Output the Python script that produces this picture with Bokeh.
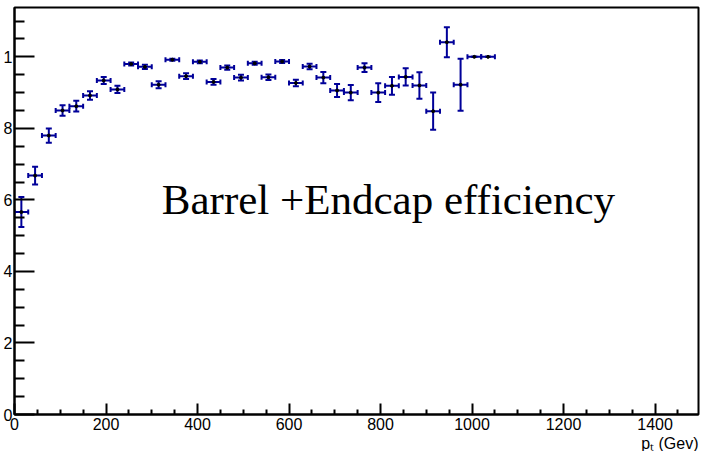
from bokeh.plotting import figure
from bokeh.models import ColumnDataSource, Whisker, TeeHead, Label, FixedTicker, Range1d, Title
from bokeh.embed import file_html
from bokeh.resources import INLINE

# ---- data ----
pt_center = [15, 45, 75, 105, 135, 165, 195, 225, 255, 285, 315, 345, 375, 405,
             435, 465, 495, 525, 555, 585, 615, 645, 675, 705, 735, 765, 795, 825,
             855, 885, 915, 945, 975, 1005, 1035]
pt_halfwidth = [15] * len(pt_center)
efficiency = [0.566, 0.668, 0.780, 0.850, 0.862, 0.892, 0.934, 0.909, 0.980, 0.972,
              0.922, 0.992, 0.946, 0.986, 0.930, 0.970, 0.942, 0.982, 0.943, 0.987,
              0.927, 0.973, 0.942, 0.906, 0.900, 0.970, 0.900, 0.919, 0.944, 0.920,
              0.848, 1.041, 0.922, 1.000, 1.000]
eff_error = [0.042, 0.025, 0.020, 0.015, 0.015, 0.012, 0.010, 0.010, 0.004, 0.006,
             0.010, 0.003, 0.008, 0.004, 0.008, 0.006, 0.008, 0.004, 0.008, 0.004,
             0.009, 0.008, 0.016, 0.018, 0.021, 0.012, 0.026, 0.025, 0.024, 0.037,
             0.052, 0.042, 0.073, 0.0, 0.0]

x_ticks = [0, 200, 400, 600, 800, 1000, 1200, 1400]
x_tick_labels = ["0", "200", "400", "600", "800", "1000", "1200", "1400"]
y_ticks = [0.0, 0.2, 0.4, 0.6, 0.8, 1.0]
y_tick_labels = ["0", "2", "4", "6", "8", "1"]   # visible part of the cropped labels

chart_text = "Barrel +Endcap efficiency"
x_title = "p\u209c (Gev)"

# ---- derived columns ----
src = ColumnDataSource(dict(
    pt=pt_center,
    eff=efficiency,
    ylo=[e - d for e, d in zip(efficiency, eff_error)],
    yhi=[e + d for e, d in zip(efficiency, eff_error)],
    xlo=[c - w for c, w in zip(pt_center, pt_halfwidth)],
    xhi=[c + w for c, w in zip(pt_center, pt_halfwidth)],
))

BAR = "#000099"

p = figure(width=700, height=451, output_backend="svg", toolbar_location=None,
           x_range=Range1d(0, 1495), y_range=Range1d(0, 1.138),
           min_border_left=0, min_border_right=2, min_border_top=7, min_border_bottom=37)
p.background_fill_color = "white"
p.border_fill_color = "white"
p.outline_line_color = "black"
p.outline_line_width = 2
p.grid.visible = False

# axes
xa = p.xaxis[0]
ya = p.yaxis[0]
xa.ticker = FixedTicker(ticks=x_ticks,
                        minor_ticks=[v for v in range(0, 1501, 50) if v % 200])
xa.major_label_overrides = {t: l for t, l in zip(x_ticks, x_tick_labels)}
ya.ticker = FixedTicker(ticks=y_ticks,
                        minor_ticks=[round(0.05 * i, 2) for i in range(23) if i % 4])
ya.major_label_overrides = {t: l for t, l in zip(y_ticks, y_tick_labels)}

for ax in (xa, ya):
    ax.axis_line_color = "black"
    ax.axis_line_width = 2
    ax.major_tick_line_color = "black"
    ax.major_tick_line_width = 2
    ax.minor_tick_line_color = "black"
    ax.minor_tick_line_width = 2
    ax.major_tick_out = 0
    ax.minor_tick_out = 0
    ax.major_label_text_font = "Liberation Sans"
    ax.major_label_text_font_size = "16px"
    ax.major_label_text_font_style = "normal"
    ax.major_label_text_color = "black"

xa.major_tick_in = 11
xa.minor_tick_in = 5
xa.major_label_standoff = 3
ya.major_tick_in = 20
ya.minor_tick_in = 10
ya.major_label_standoff = 2

# x-axis title, right aligned below the tick labels
p.add_layout(Title(text=x_title, align="right", text_font="Liberation Sans",
                   text_font_size="16px", text_font_style="normal", text_color="black",
                   standoff=0, offset=0), "below")

# error bars
hbar = Whisker(source=src, base="eff", lower="xlo", upper="xhi", dimension="width",
               line_color=BAR, line_width=2,
               lower_head=TeeHead(size=5, line_color=BAR, line_width=2),
               upper_head=TeeHead(size=5, line_color=BAR, line_width=2))
vbar = Whisker(source=src, base="pt", lower="ylo", upper="yhi", dimension="height",
               line_color=BAR, line_width=2,
               lower_head=TeeHead(size=6, line_color=BAR, line_width=2),
               upper_head=TeeHead(size=6, line_color=BAR, line_width=2))
p.add_layout(hbar)
p.add_layout(vbar)

p.scatter("pt", "eff", source=src, size=3, color="black", marker="circle")

# in-plot text
p.add_layout(Label(x=322, y=0.600, text=chart_text, text_font="Liberation Serif",
                   text_font_size="43px", text_color="black",
                   text_baseline="alphabetic", text_align="left"))

open("out.html", "w").write(file_html(p, INLINE))
